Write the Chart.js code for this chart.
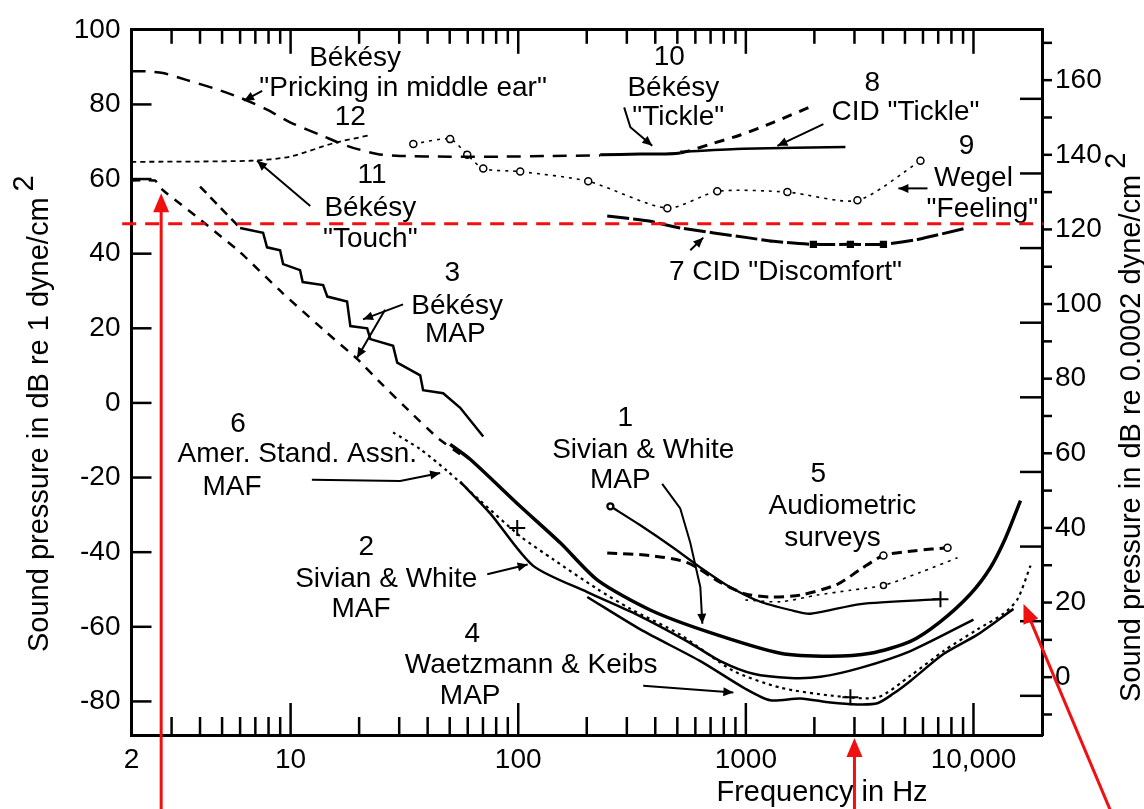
<!DOCTYPE html>
<html lang="en">
<head>
<meta charset="UTF-8">
<title>Thresholds of hearing and feeling</title>
<script src="https://cdn.jsdelivr.net/npm/chart.js"></script>
<style>
  body { margin: 0; background: #fff; }
  #wrap { width: 1144px; height: 809px; }
</style>
</head>
<body>
<div id="wrap"><canvas id="chart" width="1144" height="809"></canvas></div>
<script>
// all curves: [frequency in Hz, dB re 1 dyne/cm2]
const pricking = [[2, 88.9], [2.32, 88.9], [2.75, 88.4], [3.51, 86.5], [4.66, 84.2], [6.0, 81.8], [7.88, 78.6], [9.95, 75.2], [13.9, 71.5], [17.7, 68.9], [24, 66.7], [30.3, 66.2], [50, 66.0], [83, 66.0], [138, 66.2], [229, 66.3]];
const bekesyTickle = [[229, 66.5], [344, 66.7], [515, 67.0], [720, 69.6], [946, 71.8], [1321, 75.2], [1980, 79.7]];
const cidTickle = [[515, 67.3], [975, 68.1], [2738, 68.6]];
const touch = [[2, 64.6], [6.64, 64.9], [9.95, 66.0], [15.4, 69.6], [22.4, 71.8]];
const wegelFeeling = [[34.6, 69.4], [50.2, 70.7], [59.7, 66.5], [70.2, 62.8], [102, 62.0], [203, 59.4], [452, 52.2], [749, 56.7], [1522, 56.5], [3092, 54.3], [5848, 64.9]];
const cidDiscomfort = [[246, 50.1], [369, 48.8], [515, 46.9], [1015, 44.3], [1321, 43.3], [1980, 42.5], [2879, 42.5], [4022, 42.5], [5675, 43.8], [9037, 46.7]];
const bekesyMapSteps = [[4.0, 58.0], [6.0, 46.9], [7.57, 45.6], [7.88, 41.7], [8.99, 40.9], [9.27, 37.2], [11.0, 35.6], [11.3, 32.4], [13.9, 31.6], [14.5, 28.5], [17.7, 27.2], [18.3, 20.6], [21.7, 20.0], [22.4, 17.1], [28.2, 15.3], [29.4, 10.8], [37.1, 7.4], [38.2, 3.4], [46.8, 2.6], [55.6, -1.3], [70.2, -9.0]];
const bekesyMapDash = [[2, 59.6], [2.54, 59.6], [2.75, 57.0], [3.92, 49.6], [6.0, 40.4], [9.27, 29.3], [14.5, 18.7], [19.6, 11.8], [25.5, 4.7], [33.5, -2.4], [44.1, -9.3], [55.6, -13.8]];
const sivianMap = [[50.2, -11.1], [61.5, -15.1], [102, -27.7], [153, -37.5], [223, -47.5], [380, -55.5], [677, -61.3], [1418, -67.1], [2352, -67.9], [3526, -67.1], [5285, -63.9], [7160, -58.6], [9700, -51.2], [11880, -44.1], [13830, -36.2], [16090, -26.2]];
const sivianMaf = [[55.6, -21.1], [75.3, -29.6], [116, -43.6], [201, -50.7], [334, -56.8], [553, -63.9], [773, -69.2], [1079, -72.6], [1569, -73.7], [2126, -73.4], [3187, -71.0], [5285, -66.5], [10000, -58.1]];
const asaMaf = [[28.2, -7.9], [37.1, -12.4], [48.7, -18.2], [68.1, -26.2], [102, -35.7], [143, -42.0], [223, -49.9], [311, -55.2], [515, -62.1], [881, -71.8], [1418, -76.3], [2352, -78.4], [3785, -78.9], [5285, -73.1], [7384, -66.5], [10410, -60.7], [13550, -56.5], [15610, -52.6], [17810, -43.6]];
const waetzmannMap = [[201, -52.0], [344, -60.7], [631, -69.2], [995, -76.6], [1281, -79.7], [1736, -79.2], [2352, -80.3], [3092, -80.8], [3785, -80.5], [4450, -77.9], [5285, -74.5], [7384, -67.3], [10410, -62.1], [14990, -55.2]];
const surveyA = [[254, -27.7], [344, -32.8], [480, -38.8], [631, -44.1], [829, -48.9], [1158, -53.3], [1569, -55.5], [1920, -56.5], [3187, -53.9], [7160, -52.6]];
const surveyB = [[246, -40.2], [380, -40.9], [553, -42.8], [773, -48.1], [995, -51.2], [1281, -52.0], [1736, -51.5], [2525, -48.6], [3187, -44.6], [4022, -40.9], [5561, -39.6], [7690, -38.8]];
const surveyC = [[995, -52.8], [1418, -53.3], [2062, -51.5], [2879, -50.2], [4022, -48.9], [5848, -45.4], [8507, -41.5]];
const crossMarks = [[99, -33.5], [2879, -78.9], [7160, -52.6]];

// the right scale is the left one shifted by this many dB (as drawn)
const rightOffset = 73.5;
const leftMin = -89, leftMax = 100;
const xLabelValues = [2, 10, 100, 1000, 10000];

// curve labels, centred at [Hz, dB]
const labelText = ['Békésy', '"Pricking in middle ear"', '12', '11', 'Békésy', '"Touch"', '3', 'Békésy', 'MAP',
  '6', 'Amer. Stand. Assn.', 'MAF', '2', 'Sivian & White', 'MAF', '4', 'Waetzmann & Keibs', 'MAP',
  '1', 'Sivian & White', 'MAP', '5', 'Audiometric', 'surveys', '10', 'Békésy', '"Tickle"',
  '8', 'CID "Tickle"', '9', 'Wegel', '"Feeling"', '7 CID "Discomfort"'];
const labelHz = [19.2, 31.2, 18.3, 22.8, 22.4, 22.4, 51.3, 53.9, 52.9,
  5.88, 10.7, 5.53, 21.5, 26.3, 20.4, 62.8, 114, 61.5,
  295, 354, 281, 2083, 2656, 2400, 461, 480, 505,
  3597, 5025, 9314, 10000, 10950, 1492];
const labelDb = [92.3, 84.4, 76.5, 60.9, 52.2, 43.8, 34.8, 25.8, 18.4,
  -5.6, -13.8, -22.5, -38.8, -47.3, -55.2, -62.1, -70.2, -78.7,
  -4.0, -12.7, -20.6, -19.0, -27.7, -36.2, 92.6, 84.4, 76.5,
  85.7, 77.8, 68.9, 60.1, 52.0, 35.1];

// pointer arrows from labels to curves, head at the last point
const pointers = [
  [[7.5, 83.6], [6.24, 81.0]],
  [[12.2, 52.8], [7.12, 64.9]],
  [[31.2, 26.4], [20.8, 22.4]],
  [[26.0, 25.0], [19.6, 12.1]],
  [[12.4, -20.6], [30.3, -20.9], [45.4, -18.8]],
  [[73.1, -45.9], [110, -43.3]],
  [[354, -75.8], [881, -77.6]],
  [[429, -21.7], [515, -28.3], [570, -37.5], [631, -49.4], [644, -59.2]],
  [[292, 79.2], [311, 73.9], [388, 68.9]],
  [[2191, 74.7], [1376, 68.9]],
  [[6280, 57.5], [4679, 57.5]],
  [[570, 40.9], [650, 44.3]]
];

// red marks added on top of the figure
const redLevelDb = 48;
const redLevelHz = [1.82, 20300];
const redUpArrows = [[[2.7, -110], [2.7, 56.2]], [[3000, -110], [3000, -89.8]], [[40000, -109.3], [16590, -53.9]]];

const FONT = '"Liberation Sans", Arial, Helvetica, sans-serif';
Chart.defaults.font.family = FONT;
Chart.defaults.color = '#000';

const pts = arr => arr.map(p => ({x: p[0], y: p[1]}));

function curve(data, width, dash, extra) {
  return Object.assign({
    data: pts(data),
    borderColor: '#000',
    backgroundColor: '#000',
    borderWidth: width,
    borderDash: dash,
    pointRadius: 0,
    tension: 0.25,
    fill: false
  }, extra || {});
}

const openCircle = {pointRadius: 3.5, pointStyle: 'circle', pointBackgroundColor: '#fff', pointBorderColor: '#000', pointBorderWidth: 1.5};

function arrowHead(ctx, x0, y0, x1, y1, len, half) {
  const a = Math.atan2(y1 - y0, x1 - x0);
  ctx.beginPath();
  ctx.moveTo(x1, y1);
  ctx.lineTo(x1 - len * Math.cos(a) + half * Math.sin(a), y1 - len * Math.sin(a) - half * Math.cos(a));
  ctx.lineTo(x1 - len * Math.cos(a) - half * Math.sin(a), y1 - len * Math.sin(a) + half * Math.cos(a));
  ctx.closePath();
  ctx.fill();
}

const decorations = {
  id: 'decorations',
  afterDraw(chart) {
    const ctx = chart.ctx;
    const sx = chart.scales.x, sy = chart.scales.y, sy2 = chart.scales.y2;
    const area = chart.chartArea;
    const P = (hz, db) => [sx.getPixelForValue(hz), sy.getPixelForValue(db)];
    const line = (x0, y0, x1, y1) => { ctx.beginPath(); ctx.moveTo(x0, y0); ctx.lineTo(x1, y1); ctx.stroke(); };

    ctx.save();
    ctx.strokeStyle = '#000';
    ctx.fillStyle = '#000';
    ctx.lineWidth = 2.5;

    // inward ticks, left axis
    for (let v = -80; v <= 80; v += 20) {
      const py = sy.getPixelForValue(v);
      line(area.left, py, area.left + 20, py);
    }
    // log ticks on bottom and top
    for (let d = 1; d <= 10000; d *= 10) {
      for (let m = 1; m <= 9; m++) {
        const v = d * m;
        if (v <= 2 || v >= 20000) continue;
        const p = sx.getPixelForValue(v);
        line(p, area.bottom, p, area.bottom - (m === 1 ? 32 : 18));
        line(p, area.top, p, area.top + (m === 1 ? 24 : 14));
      }
    }
    // right axis: short outward ticks every 10, long inward ones
    for (let v = -10; v <= 170; v += 10) {
      const py = sy2.getPixelForValue(v);
      line(area.right, py, area.right + 10, py);
    }
    for (let v = -5; v <= 155; v += 20) {
      const py = sy2.getPixelForValue(v);
      line(area.right - 22, py, area.right, py);
    }

    // pointer arrows
    ctx.lineWidth = 2;
    pointers.forEach(path => {
      const p = path.map(q => P(q[0], q[1]));
      ctx.beginPath();
      ctx.moveTo(p[0][0], p[0][1]);
      for (let i = 1; i < p.length; i++) ctx.lineTo(p[i][0], p[i][1]);
      ctx.stroke();
      const a = p[p.length - 2], b = p[p.length - 1];
      arrowHead(ctx, a[0], a[1], b[0], b[1], 10, 4.5);
    });

    // labels
    ctx.font = '28px ' + FONT;
    ctx.textAlign = 'center';
    ctx.textBaseline = 'middle';
    labelText.forEach((t, i) => {
      const p = P(labelHz[i], labelDb[i]);
      ctx.fillText(t, p[0], p[1]);
    });

    // axis titles
    ctx.font = '29px ' + FONT;
    ctx.fillText('Frequency in Hz', 822, 793);
    const vTitle = (text, x, yStart) => {
      ctx.save();
      ctx.translate(x, yStart);
      ctx.rotate(-Math.PI / 2);
      ctx.textAlign = 'left';
      ctx.fillText(text, 0, 0);
      const w = ctx.measureText(text).width;
      ctx.fillText('2', w + 6, -15);
      ctx.restore();
    };
    vTitle('Sound pressure in dB re 1 dyne/cm', 40, 652);
    vTitle('Sound pressure in dB re 0.0002 dyne/cm', 1132, 702);

    // red marks
    ctx.strokeStyle = '#f01010';
    ctx.fillStyle = '#f01010';
    ctx.lineWidth = 3;
    ctx.setLineDash([14, 9]);
    const r0 = P(redLevelHz[0], redLevelDb), r1 = P(redLevelHz[1], redLevelDb);
    line(r0[0], r0[1], r1[0], r1[1]);
    ctx.setLineDash([]);
    redUpArrows.forEach(seg => {
      const a = P(seg[0][0], seg[0][1]), b = P(seg[1][0], seg[1][1]);
      const ang = Math.atan2(b[1] - a[1], b[0] - a[0]);
      line(a[0], a[1], b[0] - 14 * Math.cos(ang), b[1] - 14 * Math.sin(ang));
      arrowHead(ctx, a[0], a[1], b[0], b[1], 19, 8);
    });
    ctx.restore();
  }
};

new Chart(document.getElementById('chart'), {
  type: 'line',
  data: {
    datasets: [
      curve(pricking, 2.5, [14, 9]),
      curve(bekesyTickle, 2.5, [], {segment: {borderDash: c => c.p0DataIndex < 2 ? [] : [10, 8]}, borderWidth: 3}),
      curve(cidTickle, 2.5, []),
      curve(touch, 1.8, [5, 4]),
      curve(wegelFeeling, 1.6, [3, 5], openCircle),
      curve(cidDiscomfort, 3, [22, 4], {pointRadius: [0, 0, 0, 0, 0, 3, 3, 3, 0, 0], pointStyle: 'rect'}),
      curve(bekesyMapSteps, 2.5, [], {tension: 0, segment: {borderDash: c => c.p0DataIndex === 0 ? [9, 6] : undefined}}),
      curve(bekesyMapDash, 2.5, [9, 8], {tension: 0.1}),
      curve(sivianMap, 3.5, []),
      curve(sivianMaf, 2.5, []),
      curve(asaMaf, 2.2, [3, 4]),
      curve(waetzmannMap, 2.5, []),
      curve(surveyA, 2.3, [], {pointRadius: [3, 0, 0, 0, 0, 0, 0, 0, 0, 0], pointStyle: 'circle', pointBackgroundColor: '#fff'}),
      curve(surveyB, 3, [10, 6], {pointRadius: [0, 0, 0, 0, 0, 0, 0, 0, 0, 3.5, 0, 3.5], pointStyle: 'circle', pointBackgroundColor: '#fff', pointBorderWidth: 1.5}),
      curve(surveyC, 1.6, [3, 5], {pointRadius: [0, 0, 0, 0, 3, 0, 0], pointStyle: 'circle', pointBackgroundColor: '#fff', pointBorderWidth: 1.5}),
      {data: pts(crossMarks), showLine: false, pointStyle: 'cross', pointRadius: 8, pointBorderWidth: 2, borderColor: '#000'}
    ]
  },
  options: {
    responsive: false,
    animation: false,
    layout: {padding: 0},
    plugins: {legend: {display: false}, tooltip: {enabled: false}},
    scales: {
      x: {
        type: 'logarithmic', position: 'bottom', min: 2, max: 20000,
        grid: {display: false, drawTicks: false},
        border: {display: true, color: '#000', width: 3},
        ticks: {
          autoSkip: false, maxRotation: 0, padding: 8, font: {size: 28},
          callback: v => xLabelValues.includes(v) ? (v === 10000 ? '10,000' : String(v)) : ''
        },
        afterFit: s => { s.height = 74; }
      },
      x2: {
        type: 'logarithmic', position: 'top', min: 2, max: 20000,
        grid: {display: false, drawTicks: false},
        border: {display: true, color: '#000', width: 3},
        ticks: {display: false},
        afterFit: s => { s.height = 19; }
      },
      y: {
        position: 'left', min: leftMin, max: leftMax,
        grid: {display: false, drawTicks: false},
        border: {display: true, color: '#000', width: 3},
        ticks: {stepSize: 20, includeBounds: false, padding: 11, font: {size: 28}},
        afterFit: s => { s.width = 131.5; }
      },
      y2: {
        position: 'right', min: leftMin + rightOffset, max: leftMax + rightOffset,
        grid: {display: false, drawTicks: false},
        border: {display: true, color: '#000', width: 3},
        ticks: {stepSize: 20, includeBounds: false, padding: 13, font: {size: 28}},
        afterFit: s => { s.width = 102; }
      }
    }
  },
  plugins: [decorations]
});
</script>
</body>
</html>
